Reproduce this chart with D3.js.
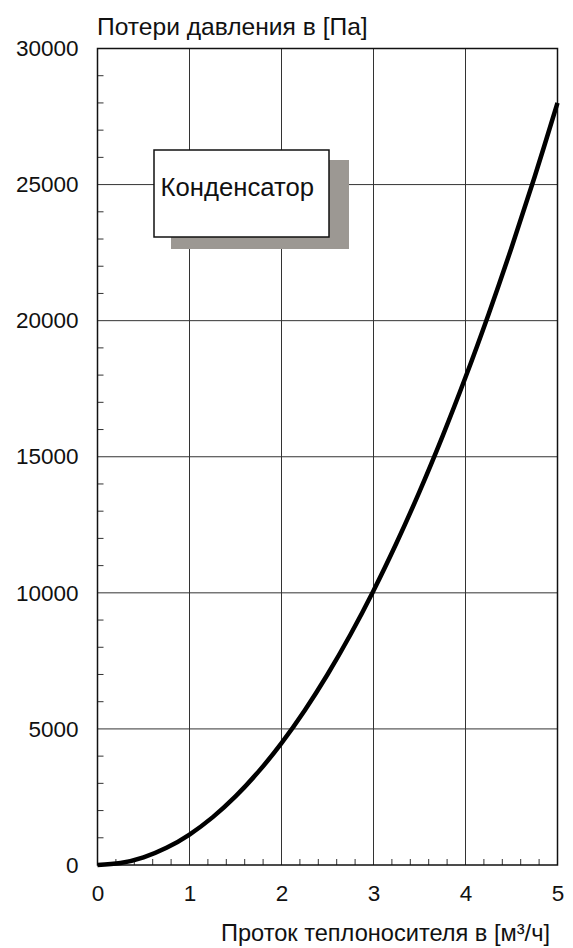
<!DOCTYPE html>
<html><head><meta charset="utf-8">
<script src="https://cdn.jsdelivr.net/npm/d3@7"></script>
<style>html,body{margin:0;padding:0;background:#fff;}svg{display:block;}</style>
</head><body>
<script>
const flowValues = [0,0.25,0.5,0.75,1,1.25,1.5,1.75,2,2.25,2.5,2.75,3,3.25,3.5,3.75,4,4.25,4.5,4.75,5];
const pressureLoss = [0,70,280,630,1120,1750,2520,3430,4480,5670,7000,8470,10080,11830,13720,15750,17920,20230,22680,25270,28000];
const xTicks = [0,1,2,3,4,5];
const yTicks = [0,5000,10000,15000,20000,25000,30000];
const yTitle = "Потери давления в [Па]";
const xTitle = "Проток теплоносителя в [м³/ч]";
const boxLabel = "Конденсатор";

const W=573,H=948;
const m={left:97.5,right:15.5,top:48.5,bottom:83};
const svg=d3.select("body").append("svg").attr("width",W).attr("height",H);
const x=d3.scaleLinear().domain([0,5]).range([m.left,W-m.right]);
const y=d3.scaleLinear().domain([0,30000]).range([H-m.bottom,m.top]);
const font="'Liberation Sans', Arial, sans-serif";
const fsTick=22.5;

// grid
const g=svg.append("g");
g.selectAll(".vg").data(xTicks.slice(1,-1)).join("line")
 .attr("x1",d=>x(d)).attr("x2",d=>x(d)).attr("y1",y(0)).attr("y2",y(30000))
 .attr("stroke","#333").attr("stroke-width",1);
g.selectAll(".hg").data(yTicks.slice(1,-1)).join("line")
 .attr("y1",d=>y(d)).attr("y2",d=>y(d)).attr("x1",x(0)).attr("x2",x(5))
 .attr("stroke","#333").attr("stroke-width",1);

// minor ticks
const yMinor=d3.range(0,30001,1000).filter(v=>v%5000!==0);
g.selectAll(".ym").data(yMinor).join("line")
 .attr("x1",x(0)).attr("x2",x(0)+6).attr("y1",d=>y(d)).attr("y2",d=>y(d))
 .attr("stroke","#333").attr("stroke-width",1);
const xMinor=d3.range(1,25).map(i=>i*0.2).filter((v,i)=>(i+1)%5!==0);
g.selectAll(".xm").data(xMinor).join("line")
 .attr("y1",y(0)).attr("y2",y(0)-6).attr("x1",d=>x(d)).attr("x2",d=>x(d))
 .attr("stroke","#333").attr("stroke-width",1);

// box with shadow
svg.append("rect").attr("x",171).attr("y",160).attr("width",178).attr("height",89).attr("fill","#9c9893");
svg.append("rect").attr("x",154).attr("y",150).attr("width",175).attr("height",87).attr("fill","#fff").attr("stroke","#111").attr("stroke-width",1.5);
svg.append("text").attr("x",160.5).attr("y",196).attr("font-family",font).attr("font-size",25.7).attr("fill","#111").text(boxLabel);

// frame
svg.append("rect").attr("x",x(0)).attr("y",y(30000)).attr("width",x(5)-x(0)).attr("height",y(0)-y(30000))
 .attr("fill","none").attr("stroke","#111").attr("stroke-width",1.5);

// curve
const line=d3.line().x((d,i)=>x(flowValues[i])).y(d=>y(d)).curve(d3.curveCatmullRom);
svg.append("path").datum(pressureLoss).attr("d",line).attr("fill","none").attr("stroke","#000").attr("stroke-width",4.5);

// axes labels
const xAxis=d3.axisBottom(x).tickValues(xTicks).tickSize(0).tickPadding(20).tickFormat(d3.format("d"));
const ax=svg.append("g").attr("transform",`translate(0,${y(0)})`).call(xAxis);
ax.select(".domain").remove();
ax.selectAll("text").attr("font-family",font).attr("font-size",fsTick).attr("fill","#111");
const yAxis=d3.axisLeft(y).tickValues(yTicks).tickSize(0).tickPadding(19).tickFormat(d3.format("d"));
const ay=svg.append("g").attr("transform",`translate(${x(0)},0)`).call(yAxis);
ay.select(".domain").remove();
ay.selectAll("text").attr("font-family",font).attr("font-size",fsTick).attr("fill","#111");

svg.append("text").attr("x",97).attr("y",35).attr("font-family",font).attr("font-size",24.6).attr("fill","#111").text(yTitle);
svg.append("text").attr("x",550).attr("y",941).attr("text-anchor","end").attr("font-family",font).attr("font-size",23.6).attr("fill","#111").text(xTitle);
</script>
</body></html>
